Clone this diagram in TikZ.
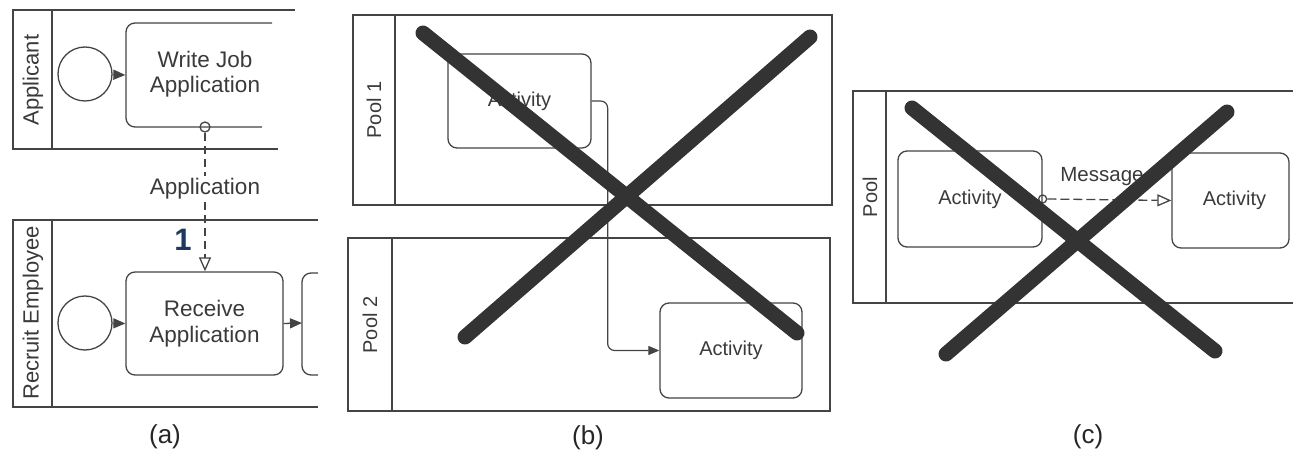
\documentclass[tikz,border=0pt]{standalone}
\usepackage{fontspec}
\setmainfont{Liberation Sans}
\usetikzlibrary{arrows.meta}
\definecolor{ln}{HTML}{444444}
\definecolor{tx}{HTML}{3A3A3A}
\definecolor{xx}{HTML}{333333}
\definecolor{num}{HTML}{1B3A5E}
\begin{document}
\begin{tikzpicture}[x=1pt,y=-1pt,
  lane/.style={draw=ln,line width=1.3pt},
  task/.style={draw=ln,line width=1.3pt,rounded corners=9pt,align=center,text=tx,
    font=\fontsize{22.5}{26}\selectfont},
  btask/.style={task,font=\fontsize{20}{24}\selectfont},
  lbl/.style={text=tx,font=\fontsize{22}{26}\selectfont,rotate=90},
  blbl/.style={text=tx,font=\fontsize{20}{24}\selectfont,rotate=90},
  startev/.style={circle,draw=ln,line width=1.3pt,minimum size=54pt,inner sep=0pt},
  seqflow/.style={draw=ln,line width=1.3pt,-{Triangle[length=12pt,width=10pt]}},
  msgline/.style={draw=ln,line width=1.3pt,dash pattern=on 8pt off 5pt},
  msgflow/.style={msgline,-{Triangle[open,length=14pt,width=12pt]}},
  msgstart/.style={circle,draw=ln,line width=1.3pt,minimum size=10pt,inner sep=0pt},
  cross/.style={draw=xx,line width=15pt,line cap=round},
  sublabel/.style={text=black!85,font=\fontsize{26}{30}\selectfont}]
\useasboundingbox (0,0) rectangle (1293,454);

% ---------------- (a)
\draw[lane] (295,10) -- (13,10) -- (13,149) -- (278,149);
\draw[lane] (52,10) -- (52,149);
\node[lbl] (applab) at (33,80) {Applicant};
\draw[lane] (318,220) -- (13,220) -- (13,407) -- (318,407);
\draw[lane] (52,220) -- (52,407);
\node[lbl] (reclab) at (33,313) {Recruit Employee};

\node[startev] (s1) at (85,74) {};
\node[task,draw=none,minimum width=146pt,minimum height=104pt] (wja) at (199,75) {};
\draw[draw=ln,line width=1.3pt,rounded corners=9pt] (272,23) -- (126,23) -- (126,127) -- (262,127);
\node[text=tx,align=center,font=\fontsize{22.5}{26}\selectfont] (wjatext) at (205,74) {Write Job\\[-1pt]Application};
\draw[seqflow] (s1) -- (wja.west);

\node[startev] (s2) at (85,323) {};
\node[task,minimum width=157pt,minimum height=103pt] (ra) at (204.5,323.5) {Receive\\Application};
\draw[seqflow] (s2) -- (ra.west);
\draw[draw=ln,line width=1.3pt,rounded corners=9pt] (318,273) -- (302,273) -- (302,375) -- (318,375);
\coordinate (nxt) at (302,323);
\draw[seqflow] (ra.east) -- (nxt);

\node[msgstart] (m1) at (205,127) {};
\node[fill=white,inner sep=2pt,text=tx,font=\fontsize{22.5}{26}\selectfont] (applbl) at (205,189) {Application};
\draw[msgline] (m1.south) -- (applbl.north);
\draw[msgflow] (applbl.south) -- (ra.north -| m1);
\node[text=num,font=\bfseries\fontsize{31}{34}\selectfont] (one) at (183,240) {1};
\node[sublabel] (capa) at (165,437) {(a)};

% ---------------- (b)
\draw[lane] (353,15) rectangle (832,205);
\draw[lane] (395,15) -- (395,205);
\node[blbl] (p1lab) at (374,110) {Pool 1};
\draw[lane] (348,238) rectangle (830,411);
\draw[lane] (392,238) -- (392,411);
\node[blbl] (p2lab) at (370,325) {Pool 2};
\node[btask,minimum width=143pt,minimum height=94pt] (b1) at (519.5,101) {Activity};
\node[btask,minimum width=142pt,minimum height=95pt] (b2) at (731,350.5) {Activity};
\draw[draw=ln,line width=1.2pt,rounded corners=7pt,-{Triangle[length=11pt,width=9pt]}]
  (b1.east) -- ++(16,0) |- (b2.west);
\draw[cross] (423,33) -- (797,333);
\draw[cross] (810,37) -- (465,337);
\node[sublabel] (capb) at (588,438) {(b)};

% ---------------- (c)
\draw[lane] (1293,91) -- (853,91) -- (853,303) -- (1293,303);
\draw[lane] (886,91) -- (886,303);
\node[blbl] (plab) at (870,197) {Pool};
\node[btask,minimum width=144pt,minimum height=96pt] (c1) at (970,199) {Activity};
\node[btask,minimum width=117pt,minimum height=95pt] (c2) at (1230.5,200.5) {\hspace*{8pt}Activity};
\node[msgstart,minimum size=8pt] (m2) at (c1.east) {};
\draw[msgflow,dash pattern=on 9pt off 4pt] (m2.east) -- (c2.west);
\node[text=tx,font=\fontsize{20.5}{24}\selectfont] (msg) at (1102,177) {Message};
\draw[cross] (912,108) -- (1215,351);
\draw[cross] (1227,112) -- (946,354);
\node[sublabel] (capc) at (1088,437) {(c)};
\end{tikzpicture}
\end{document}
